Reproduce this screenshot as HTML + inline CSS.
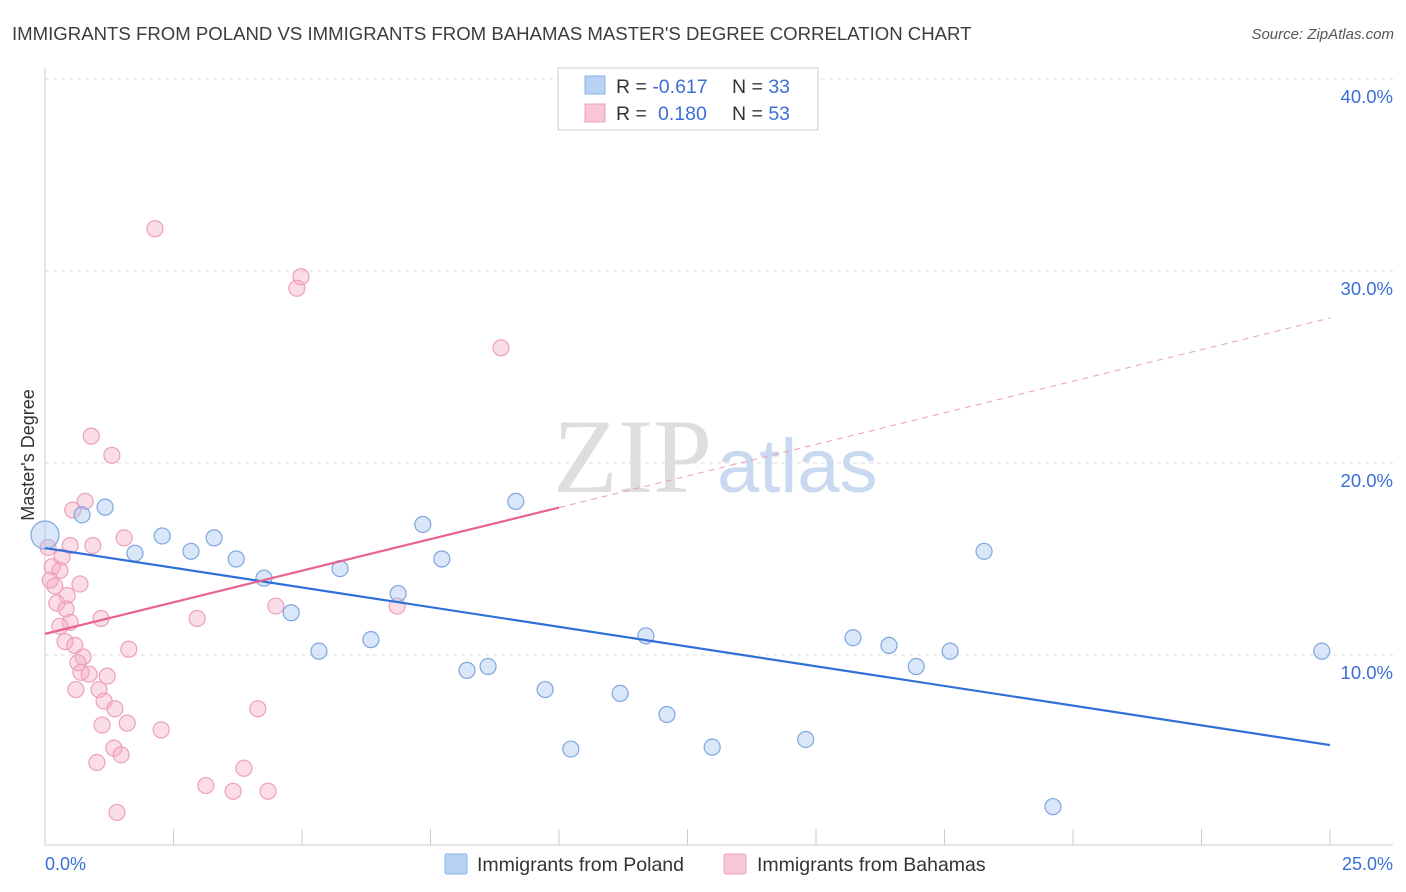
<!DOCTYPE html>
<html><head><meta charset="utf-8"><style>
body{margin:0;background:#fff;font-family:"Liberation Sans",sans-serif}
svg{display:block}
</style></head><body>
<svg width="1406" height="892" viewBox="0 0 1406 892">
<text x="12" y="40" font-size="18.6" fill="#3c3c3c">IMMIGRANTS FROM POLAND VS IMMIGRANTS FROM BAHAMAS MASTER'S DEGREE CORRELATION CHART</text>
<text x="1394" y="39" font-size="15" fill="#555" font-style="italic" text-anchor="end">Source: ZipAtlas.com</text>
<g id="grid"></g>
<g id="yticks"></g>
<line x1="45" y1="68" x2="45" y2="845" stroke="#ccc"/>
<line x1="45" y1="845" x2="1393" y2="845" stroke="#ccc"/>
<g id="xticks"></g>
<text x="45" y="870" font-size="18" fill="#3a6fd8">0.0%</text>
<text x="1393" y="870" font-size="18" fill="#3a6fd8" text-anchor="end">25.0%</text>
<text transform="translate(34,455) rotate(-90)" font-size="18" fill="#333" text-anchor="middle">Master's Degree</text>
<g><text x="553" y="492" font-size="106" font-family="Liberation Serif,serif" fill="#dedede">ZIP</text><text x="717" y="492" font-size="76" fill="#c9d9f0">atlas</text></g>
<g id="pink"></g>
<g id="blue"></g>
<g id="lines"></g>
<g>
<rect x="558" y="68" width="260" height="62" fill="#fff" stroke="#ccc"/>
<rect x="585" y="76" width="20" height="18" fill="#b8d2f5" stroke="#8ab0e8"/>
<rect x="585" y="104" width="20" height="18" fill="#f8c6d4" stroke="#eea0b8"/>
<text x="616" y="93" font-size="19.5" fill="#333">R = <tspan fill="#3a6fd8">-0.617</tspan><tspan x="732">N = </tspan><tspan fill="#3a6fd8">33</tspan></text>
<text x="616" y="120" font-size="19.5" fill="#333">R = <tspan x="658" fill="#3a6fd8">0.180</tspan><tspan x="732">N = </tspan><tspan fill="#3a6fd8">53</tspan></text>
</g>
<g>
<rect x="445" y="854" width="22" height="20" fill="#b8d2f5" stroke="#8ab0e8" rx="2"/>
<text x="477" y="871" font-size="19.5" fill="#333">Immigrants from Poland</text>
<rect x="724" y="854" width="22" height="20" fill="#f8c6d4" stroke="#eea0b8" rx="2"/>
<text x="757" y="871" font-size="19.5" fill="#333">Immigrants from Bahamas</text>
</g>
</svg>
<script>
const yTicks=[10,20,30,40];
const yTickLabels=["10.0%","20.0%","30.0%","40.0%"];
const blueX=[0,0.72,1.17,1.75,2.28,2.84,3.29,3.72,4.26,4.79,5.33,5.74,6.34,6.87,7.35,7.72,8.21,8.62,9.16,9.73,10.23,11.19,11.69,12.1,12.98,14.8,15.72,16.42,16.95,17.61,18.27,19.61,24.84];
const blueY=[16.25,17.3,17.7,15.3,16.2,15.4,16.1,15.0,14.0,12.2,10.2,14.5,10.8,13.2,16.8,15.0,9.2,9.4,18.0,8.2,5.1,8.0,11.0,6.9,5.2,5.6,10.9,10.5,9.4,10.2,15.4,2.1,10.2];
const pinkX=[2.14,4.98,4.9,8.87,0.9,1.3,0.78,0.54,0.49,0.93,1.54,0.06,0.33,0.14,0.29,0.1,0.19,0.68,0.43,0.23,0.41,4.49,6.85,1.09,2.96,0.49,0.29,0.39,0.58,0.74,1.63,0.64,0.7,0.86,1.21,0.6,1.05,1.15,1.36,4.14,1.11,1.6,2.26,1.34,1.48,1.01,3.87,3.13,3.66,4.34,1.4];
const pinkY=[32.2,29.7,29.1,26.0,21.4,20.4,18.0,17.55,15.7,15.7,16.1,15.6,15.1,14.6,14.4,13.9,13.6,13.7,13.1,12.7,12.4,12.55,12.55,11.9,11.9,11.7,11.5,10.7,10.5,9.9,10.3,9.6,9.1,9.0,8.9,8.2,8.2,7.6,7.2,7.2,6.35,6.45,6.1,5.15,4.8,4.4,4.1,3.2,2.9,2.9,1.8];
const blueTrend=[15.57,5.31];
const pinkTrend=[11.1,27.55];
const pinkSolidEnd=10;
const NS="http://www.w3.org/2000/svg";
const sx=v=>45+v*51.4, sy=v=>847-v*19.2;
function mk(tag,attrs,parent){const e=document.createElementNS(NS,tag);for(const k in attrs)e.setAttribute(k,attrs[k]);parent.appendChild(e);return e;}
const grid=document.getElementById('grid'),yt=document.getElementById('yticks');
yTicks.forEach((t,i)=>{
 const l=mk('line',{x1:45,x2:1393,y1:sy(t),y2:sy(t),stroke:'#ddd','stroke-dasharray':'4,4'},grid);
 
 
 const tx=mk('text',{x:1393,y:sy(t)+24,'font-size':18.5,fill:'#3a6fd8','text-anchor':'end'},yt);
 tx.textContent=yTickLabels[i];
 
 
});
const xt=document.getElementById('xticks');
for(let i=1;i<=10;i++){const l=mk('line',{x1:sx(i*2.5),x2:sx(i*2.5),y1:829,y2:845,stroke:'#ccc'},xt);
 
 }
const pg=document.getElementById('pink');
pinkX.forEach((x,i)=>{const c=mk('circle',{cx:sx(x),cy:sy(pinkY[i]),r:8,fill:'rgba(245,170,195,0.4)',stroke:'#eea0b8','stroke-width':1.2},pg);
 
 });
const bg=document.getElementById('blue');
blueX.forEach((x,i)=>{const c=mk('circle',{cx:sx(x),cy:sy(blueY[i]),r:i===0?14:8,fill:'rgba(160,195,240,0.4)',stroke:'#7ea6e0','stroke-width':1.2},bg);
 
 });
const lg=document.getElementById('lines');
const bl=mk('line',{x1:sx(0),y1:sy(blueTrend[0]),x2:sx(25),y2:sy(blueTrend[1]),stroke:'#2f6fd8','stroke-width':2.2},lg);


const pAt=x=>pinkTrend[0]+(pinkTrend[1]-pinkTrend[0])*x/25;
const pl=mk('line',{x1:sx(0),y1:sy(pAt(0)),x2:sx(pinkSolidEnd),y2:sy(pAt(pinkSolidEnd)),stroke:'#e8648f','stroke-width':2.2},lg);


const pd=mk('line',{x1:sx(pinkSolidEnd),y1:sy(pAt(pinkSolidEnd)),x2:sx(25),y2:sy(pAt(25)),stroke:'#e8a0b8','stroke-width':1,'stroke-dasharray':'6,5'},lg);


</script>
</body></html>
